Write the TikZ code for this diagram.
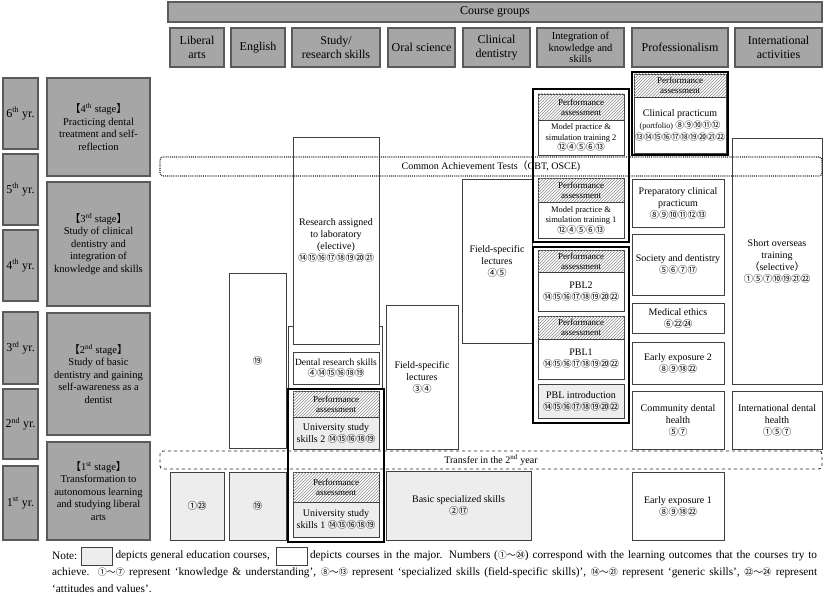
\documentclass[tikz,border=0pt]{standalone}
\usepackage{fontspec}
\setmainfont{Liberation Serif}
\newfontfamily\cjk{Noto Sans CJK SC}
\usetikzlibrary{positioning,patterns}

\definecolor{hdrgray}{HTML}{A6A6A6}
\definecolor{hdrline}{HTML}{5A5A5A}
\definecolor{gengray}{HTML}{EDEDED}
\definecolor{boxline}{HTML}{404040}

% circled learning-outcome numbers
\newcommand{\outc}[2][9.5]{{\cjk\fontsize{#1}{10}\selectfont #2}}

\begin{document}
\begin{tikzpicture}[
  x=1pt, y=-1pt,
  dims/.style 2 args={minimum width=#1pt, minimum height=#2pt},
  hdr/.style={rectangle, draw=hdrline, fill=hdrgray, line width=1.1pt, align=center, inner sep=1pt, font=\fontsize{12}{13.5}\selectfont},
  stagebox/.style={hdr, font=\fontsize{10.5}{12.5}\selectfont},
  course/.style={rectangle, draw=boxline, fill=#1, line width=0.8pt, align=center, inner sep=1pt, font=\fontsize{10}{12}\selectfont},
  course/.default=white,
  assess/.style={course, font=\fontsize{9}{10}\selectfont, postaction={pattern=north east lines, pattern color=black!45}},
  frame/.style={rectangle, draw=black, line width=2pt, inner sep=0pt},
  band/.style={rectangle, rounded corners=3pt, draw=black!85, line width=0.9pt, inner sep=1pt, font=\fontsize{10}{12}\selectfont},
  notetext/.style={inner sep=1pt, font=\fontsize{11.3}{12}\selectfont},
]
  \useasboundingbox (0,0) rectangle (826,596);

  % course groups
  \node[hdr, dims={654}{20}] (groups) at (495,12) {Course groups};
  \node[hdr, dims={54}{39}] (hlib) at (197,47.5) {Liberal\\arts};
  \node[hdr, dims={54}{39}] (heng) at (258,47.5) {English};
  \node[hdr, dims={88}{39}] (hstudy) at (336,47.5) {Study/\\research skills};
  \node[hdr, dims={67}{39}] (horal) at (421.5,47.5) {Oral science};
  \node[hdr, dims={67}{39}] (hclin) at (496.5,47.5) {Clinical\\dentistry};
  \node[hdr, dims={87}{39}, font=\fontsize{10.5}{11.5}\selectfont] (hinteg) at (580.5,47.5) {Integration of\\knowledge and\\skills};
  \node[hdr, dims={96}{39}] (hprof) at (680,47.5) {Professionalism};
  \node[hdr, dims={87}{39}] (hintl) at (778.5,47.5) {International\\activities};

  % years
  \node[hdr, dims={35}{71}] (yr6) at (20.5,113.5) {6\textsuperscript{th} yr.};
  \node[hdr, dims={35}{71}] (yr5) at (20.5,189.5) {5\textsuperscript{th} yr.};
  \node[hdr, dims={35}{71}] (yr4) at (20.5,265.5) {4\textsuperscript{th} yr.};
  \node[hdr, dims={35}{72}] (yr3) at (20.5,348) {3\textsuperscript{rd} yr.};
  \node[hdr, dims={35}{70}] (yr2) at (20.5,424) {2\textsuperscript{nd} yr.};
  \node[hdr, dims={35}{74}] (yr1) at (20.5,503) {1\textsuperscript{st} yr.};

  % stages
  \node[stagebox, dims={103}{98}] (stage4) at (98.5,127) {{\cjk 【}4\textsuperscript{th} stage{\cjk 】}\\Practicing dental\\treatment and self-\\reflection};
  \node[stagebox, dims={103}{124}] (stage3) at (98.5,244) {{\cjk 【}3\textsuperscript{rd} stage{\cjk 】}\\Study of clinical\\dentistry and\\integration of\\knowledge and skills};
  \node[stagebox, dims={103}{122}] (stage2) at (98.5,374) {{\cjk 【}2\textsuperscript{nd} stage{\cjk 】}\\Study of basic\\dentistry and gaining\\self-awareness as a\\dentist};
  \node[stagebox, dims={103}{98}] (stage1) at (98.5,491) {{\cjk 【}1\textsuperscript{st} stage{\cjk 】}\\Transformation to\\autonomous learning\\and studying liberal\\arts};

  % liberal arts, English
  \node[course=gengray, dims={54}{68}] (lib1) at (197,506) {\outc{①㉓}};
  \node[course, dims={57}{175}] (eng2) at (257.5,360.5) {\outc{⑲}};
  \node[course=gengray, dims={57}{68}] (eng1) at (257.5,506) {\outc{⑲}};

  % study/research skills
  \node[course, dims={94}{62}] (drsouter) at (335,357) {};
  \node[course, dims={86}{207}] (research) at (336,240.5) {Research assigned\\to laboratory\\(elective)\\\outc{⑭⑮⑯⑰⑱⑲⑳㉑}};
  \node[course, dims={86}{32}, font=\fontsize{9.5}{11}\selectfont] (drs) at (336,368) {Dental research skills\\\outc{④⑭⑮⑯⑱⑲}};
  \node[assess, dims={86}{26}] (pau2) at (336,404) {Performance\\assessment};
  \node[course=gengray, dims={86}{32}] (usk2) at (336,433) {University study\\skills 2 \outc{⑭⑮⑯⑱⑲}};
  \node[assess, dims={86}{30}] (pau1) at (336,487) {Performance\\assessment};
  \node[course=gengray, dims={86}{35}] (usk1) at (336,519.5) {University study\\skills 1 \outc{⑭⑮⑯⑱⑲}};

  % oral science, clinical dentistry
  \node[course, dims={72}{144}] (fsl1) at (422,377) {Field-specific\\lectures\\\outc{③④}};
  \node[course, dims={70}{164}] (fsl2) at (497,261) {Field-specific\\lectures\\\outc{④⑤}};
  \node[course=gengray, dims={145}{69}] (bss) at (458.5,505.5) {Basic specialized skills\\\outc{②⑰}};

  % integration of knowledge and skills
  \node[assess, dims={86}{26}] (pam2) at (581,107) {Performance\\assessment};
  \node[course, dims={86}{35}, font=\fontsize{8.5}{10.5}\selectfont] (mps2) at (581,137.5) {Model practice \&\\simulation training 2\\\outc{⑫④⑤⑥⑬}};
  \node[assess, dims={86}{24}] (pam1) at (581,190) {Performance\\assessment};
  \node[course, dims={86}{36}, font=\fontsize{8.5}{10.5}\selectfont] (mps1) at (581,220) {Model practice \&\\simulation training 1\\\outc{⑫④⑤⑥⑬}};
  \node[assess, dims={86}{22}] (pap2) at (581,261) {Performance\\assessment};
  \node[course, dims={86}{39}] (pbl2) at (581,291.5) {PBL2\\\outc{⑭⑮⑯⑰⑱⑲⑳㉒}};
  \node[assess, dims={86}{23}] (pap1) at (581,327.5) {Performance\\assessment};
  \node[course, dims={86}{40}] (pbl1) at (581,359) {PBL1\\\outc{⑭⑮⑯⑰⑱⑲⑳㉒}};
  \node[course=gengray, dims={86}{34}] (pbli) at (581,401) {PBL introduction\\\outc{⑭⑮⑯⑰⑱⑲⑳㉒}};

  % professionalism
  \node[assess, dims={92}{23}] (pac) at (680,85.5) {Performance\\assessment};
  \node[course, dims={92}{56}] (cp) at (680,125) {Clinical practicum\\{\fontsize{8}{10}\selectfont(portfolio)} \outc[9]{⑧⑨⑩⑪⑫}\\\outc[9]{⑬⑭⑮⑯⑰⑱⑲⑳㉑㉒}};
  \node[course, dims={92}{48}] (pcp) at (678,203) {Preparatory clinical\\practicum\\\outc{⑧⑨⑩⑪⑫⑬}};
  \node[course, dims={92}{61}] (soc) at (678,264.5) {Society and dentistry\\\outc{⑤⑥⑦⑰}};
  \node[course, dims={92}{30}] (eth) at (678,318) {Medical ethics\\\outc{⑥㉒㉔}};
  \node[course, dims={92}{42}] (ee2) at (678,363) {Early exposure 2\\\outc{⑧⑨⑱㉒}};
  \node[course, dims={92}{58}] (cdh) at (678,420) {Community dental\\health\\\outc{⑤⑦}};
  \node[course, dims={92}{68}] (ee1) at (678,506) {Early exposure 1\\\outc{⑧⑨⑱㉒}};

  % international activities
  \node[course, dims={90}{246}] (sot) at (777,261) {Short overseas\\training\\\outc[10]{（}selective\outc[10]{）}\\\outc{①⑤⑦⑩⑲㉑㉒}};
  \node[course, dims={90}{58}] (idh) at (777,420) {International dental\\health\\\outc{①⑤⑦}};

  % assessed course blocks
  \node[frame, dims={96}{153}] (frameu) at (336,465.5) {};
  \node[frame, dims={96}{153}] (framem) at (581,165.5) {};
  \node[frame, dims={96}{176}] (framep) at (581,335) {};
  \node[frame, dims={96}{83}] (framec) at (680,113.5) {};

  % bands across the columns
  \node[band, densely dotted, line width=1.1pt, dims={662}{19}] (cat) at (491,166.5) {Common Achievement Tests\outc[10]{（}CBT, OSCE)};
  \node[band, dashed, dims={662}{18}] (transfer) at (491,460) {Transfer in the 2\textsuperscript{nd} year};

  % note
  \node[notetext, anchor=west] (note) at (51,556) {Note:};
  \node[course=gengray, dims={31}{18}, right=2pt of note] (keygen) {};
  \node[notetext, right=2pt of keygen] (notegen) {depicts general education courses,};
  \node[course, dims={31}{18}, right=5pt of notegen] (keymaj) {};
  \node[notetext, right=1pt of keymaj] (notemaj) {\makebox[507pt][s]{depicts courses in the major. Numbers (\outc[9]{①～㉔}) correspond with the learning outcomes that the courses try to}};
  \node[notetext, anchor=west] (note2) at (51,573) {\makebox[765pt][s]{achieve. \outc[9]{①～⑦} represent ‘knowledge \& understanding’, \outc[9]{⑧～⑬} represent ‘specialized skills (field-specific skills)’, \outc[9]{⑭～㉑} represent ‘generic skills’, \outc[9]{㉒～㉔} represent}};
  \node[notetext, anchor=west] (note3) at (51,589) {‘attitudes and values’.};
\end{tikzpicture}
\end{document}
